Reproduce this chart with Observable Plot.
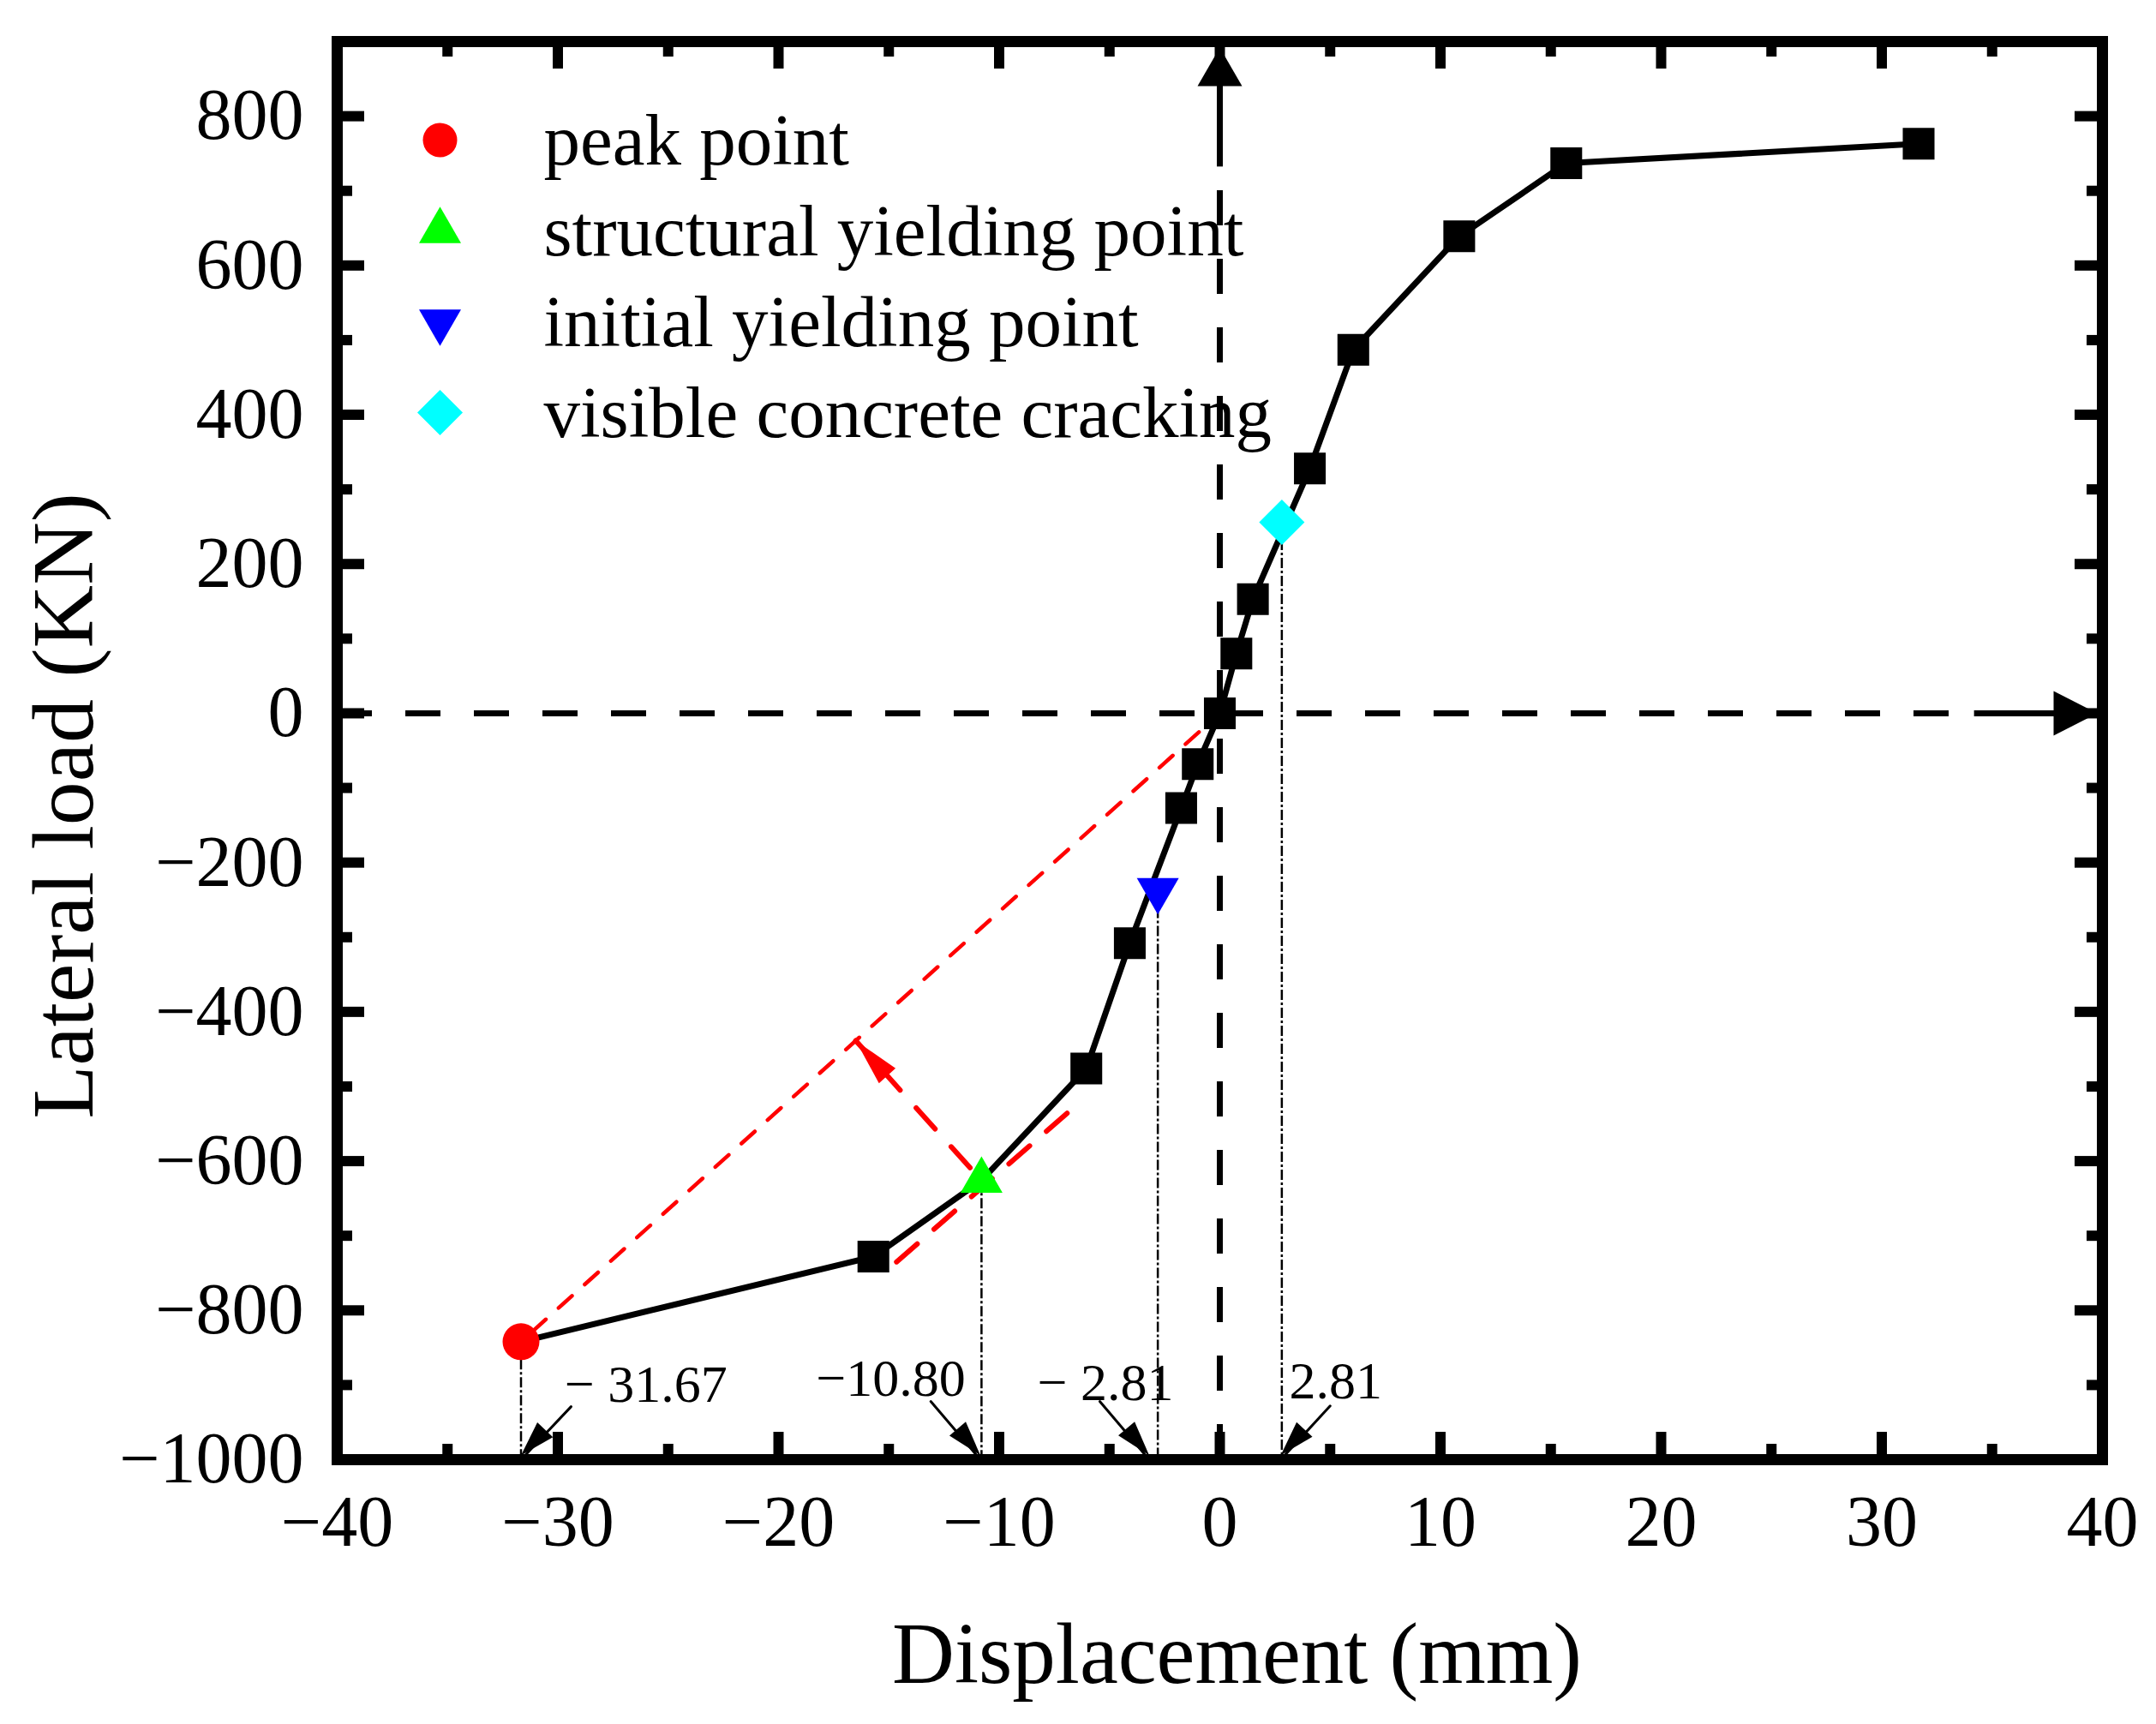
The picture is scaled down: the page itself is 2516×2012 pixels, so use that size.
<!DOCTYPE html>
<html><head><meta charset="utf-8">
<script src="https://cdn.jsdelivr.net/npm/d3@7"></script>
<script src="https://cdn.jsdelivr.net/npm/@observablehq/plot@0.6"></script>
<style>body{margin:0;background:#fff}</style>
</head><body><div id="chart"></div>
<script>
// ---- data ----
const displacement = [-31.67, -15.7, -10.8, -6.05, -4.08, -1.75, -1.0, 0, 0.75, 1.5, 4.08, 6.05, 10.85, 15.7, 31.67];
const load = [-842, -728, -626, -476, -308, -127, -68, 0, 80, 153, 328, 487, 639, 737, 763];
const squareIdx = [1, 3, 4, 5, 6, 7, 8, 9, 10, 11, 12, 13, 14];
const specialNames = ["peak point", "structural yielding point", "initial yielding point", "visible concrete cracking"];
const specialX = [-31.67, -10.8, -2.81, 2.81];
const specialY = [-842, -626, -237, 256];
const specialColors = ["#ff0000", "#00ff00", "#0000ff", "#00ffff"];
const annotationLabels = ["\u2212 31.67", "\u221210.80", "\u2212 2.81", "2.81"];
const labelX = [-29.7, -18.3, -8.27, 3.15];
const labelY = [-923, -915, -920, -918];
const arrowFromX = [-29.4, -13.1, -5.44, 5.0];
const arrowFromY = [-929, -922, -922, -928];
const arrowToX = [-31.67, -10.85, -3.2, 2.76];
const tangentX = [-14.65, -6.85];
const tangentY = [-735, -534];
const xTicks = d3.range(-40, 41, 10);
const xMinor = d3.range(-35, 40, 10);
const yTicks = d3.range(-1000, 801, 200);
const yMinor = d3.range(-900, 901, 200);
const xDomain = [-40, 40];
const yDomain = [-1000, 900];
const hShaft = [34.2, 38.5];
const vShaft = [732, 860];

// ---- layout ----
const W = 2516, H = 2012, mL = 393, mR = 63, mT = 48, mB = 309;
const plotW = W - mL - mR, plotH = H - mT - mB;
const kx = plotW / (xDomain[1] - xDomain[0]);
const ky = plotH / (yDomain[1] - yDomain[0]);
const font = "'Liberation Serif', 'Times New Roman', serif";
const fmt = d => String(d).replace("-", "\u2212");

// symbols
function arrowHead(angle, len, wid) {
  return {draw(ctx) {
    const c = Math.cos(angle), s = Math.sin(angle);
    const bx = -len * c, by = -len * s, px = -s * wid / 2, py = c * wid / 2;
    ctx.moveTo(0, 0); ctx.lineTo(bx + px, by + py); ctx.lineTo(bx - px, by - py); ctx.closePath();
  }};
}
const triDown = {draw(ctx, size) {
  const y = -Math.sqrt(size / (3 * Math.sqrt(3)));
  ctx.moveTo(0, -2 * y); ctx.lineTo(-Math.sqrt(3) * y, y); ctx.lineTo(Math.sqrt(3) * y, y); ctx.closePath();
}};
const diamond = {draw(ctx) {
  const r = 26.5; ctx.moveTo(0, -r); ctx.lineTo(r, 0); ctx.lineTo(0, r); ctx.lineTo(-r, 0); ctx.closePath();
}};
const specialSymbols = ["circle", "triangle", triDown, diamond];
const specialR = [21.5, 18.2, 18.2, 10];

const curve = displacement.map((d, i) => ({x: d, y: load[i]}));
const sp = specialX.map((d, i) => i);

// perpendicular foot from structural yielding point onto the secant (peak -> origin)
const ux = specialX[0] * kx, uy = specialY[0] * ky;
const gx = specialX[1] * kx, gy = specialY[1] * ky;
const t = (gx * ux + gy * uy) / (ux * ux + uy * uy);
const footX = t * ux / kx, footY = t * uy / ky;
const perpAngle = Math.atan2(-(footY - specialY[1]) * ky, (footX - specialX[1]) * kx);

const marks = [];
marks.push(Plot.frame({stroke: "black", strokeWidth: 13}));
// ticks (inward, all four sides)
marks.push(Plot.tickX(xTicks, {x: d => d, insetTop: plotH - 32, strokeWidth: 12}));
marks.push(Plot.tickX(xMinor, {x: d => d, insetTop: plotH - 18, strokeWidth: 12}));
marks.push(Plot.tickX(xTicks, {x: d => d, insetBottom: plotH - 32, strokeWidth: 12}));
marks.push(Plot.tickX(xMinor, {x: d => d, insetBottom: plotH - 18, strokeWidth: 12}));
marks.push(Plot.tickY(yTicks, {y: d => d, insetRight: plotW - 32, strokeWidth: 12}));
marks.push(Plot.tickY(yMinor, {y: d => d, insetRight: plotW - 18, strokeWidth: 12}));
marks.push(Plot.tickY(yTicks, {y: d => d, insetLeft: plotW - 32, strokeWidth: 12}));
marks.push(Plot.tickY(yMinor, {y: d => d, insetLeft: plotW - 18, strokeWidth: 12}));

// dash-dot drop lines
marks.push(Plot.ruleX(sp, {x: i => specialX[i], y1: i => specialY[i], y2: yDomain[0], stroke: "black", strokeWidth: 2.5, strokeDasharray: "12,3,3,3"}));

// dashed axes with arrows
marks.push(Plot.ruleY([0], {x1: xDomain[0], x2: hShaft[0], stroke: "black", strokeWidth: 7, strokeDasharray: "41,39"}));
marks.push(Plot.ruleY([0], {x1: hShaft[0], x2: hShaft[1], stroke: "black", strokeWidth: 7}));
marks.push(Plot.dot([0], {x: xDomain[1], y: 0, dx: -6, symbol: arrowHead(0, 51, 52), fill: "black", r: 10}));
marks.push(Plot.ruleX([0], {y1: yDomain[0], y2: vShaft[0], stroke: "black", strokeWidth: 7, strokeDasharray: "41,39"}));
marks.push(Plot.ruleX([0], {y1: vShaft[0], y2: vShaft[1], stroke: "black", strokeWidth: 7}));
marks.push(Plot.dot([0], {x: 0, y: yDomain[1], dy: 7, symbol: arrowHead(-Math.PI / 2, 45, 52), fill: "black", r: 10}));

// red construction lines
marks.push(Plot.line([[specialX[0], specialY[0]], [0, 0]], {stroke: "#ff0000", strokeWidth: 4.5, strokeDasharray: "21,20", strokeDashoffset: -18}));
marks.push(Plot.line([[tangentX[0], tangentY[0]], [tangentX[1], tangentY[1]]], {stroke: "#ff0000", strokeWidth: 6, strokeDasharray: "32,26"}));
marks.push(Plot.line([[specialX[1], specialY[1]], [footX, footY]], {stroke: "#ff0000", strokeWidth: 6, strokeDasharray: "33,28", strokeDashoffset: -20}));
marks.push(Plot.dot([0], {x: footX, y: footY, symbol: arrowHead(perpAngle, 55, 26), fill: "#ff0000", r: 10}));

// curve
marks.push(Plot.line(curve, {x: "x", y: "y", stroke: "black", strokeWidth: 7}));
marks.push(Plot.dot(squareIdx, {x: i => displacement[i], y: i => load[i], symbol: "square", r: 20.9, fill: "black"}));
sp.forEach(i => marks.push(Plot.dot([i], {x: i => specialX[i], y: i => specialY[i], symbol: specialSymbols[i], r: specialR[i], fill: specialColors[i]})));

// annotation arrows and labels
sp.forEach(i => {
  marks.push(Plot.line([[arrowFromX[i], arrowFromY[i]], [arrowToX[i], yDomain[0]]], {stroke: "black", strokeWidth: 3}));
  const ang = Math.atan2(-(yDomain[0] - arrowFromY[i]) * ky, (arrowToX[i] - arrowFromX[i]) * kx);
  marks.push(Plot.dot([i], {x: arrowToX[i], y: yDomain[0], dy: -5, symbol: arrowHead(ang, 41, 25), fill: "black", r: 10}));
});
marks.push(Plot.text(sp, {x: i => labelX[i], y: i => labelY[i], text: i => annotationLabels[i], textAnchor: "start", lineAnchor: "bottom", fontSize: 62, fill: "black"}));

// legend
sp.forEach(i => {
  marks.push(Plot.dot([i], {frameAnchor: "top-left", dx: 120, dy: 115 + i * 106, symbol: specialSymbols[i], r: i === 0 ? 20 : specialR[i], fill: specialColors[i]}));
  marks.push(Plot.text([specialNames[i]], {frameAnchor: "top-left", dx: 241, dy: 143 + i * 106, text: d => d, textAnchor: "start", lineAnchor: "bottom", fontSize: 85, fill: "black"}));
});

// axis titles
marks.push(Plot.text(["Lateral load (KN)"], {frameAnchor: "left", dx: 107 - mL, dy: 940 - (mT + plotH / 2), text: d => d, rotate: -90, textAnchor: "middle", lineAnchor: "bottom", fontSize: 102, fill: "black"}));
marks.push(Plot.text(["Displacement (mm)"], {frameAnchor: "bottom", dx: 20, dy: 1963 - (H - mB), text: d => d, textAnchor: "middle", lineAnchor: "bottom", fontSize: 101, fill: "black"}));

const chart = Plot.plot({
  width: W, height: H,
  marginLeft: mL, marginRight: mR, marginTop: mT, marginBottom: mB,
  style: {fontFamily: font, fontSize: "84px", background: "white", color: "black", overflow: "visible"},
  x: {domain: xDomain, ticks: xTicks, tickSize: 0, tickPadding: 41, tickFormat: fmt, label: null},
  y: {domain: yDomain, ticks: yTicks, tickSize: 0, tickPadding: 39, tickFormat: fmt, label: null},
  marks
});
document.getElementById("chart").appendChild(chart);
</script>
</body></html>
